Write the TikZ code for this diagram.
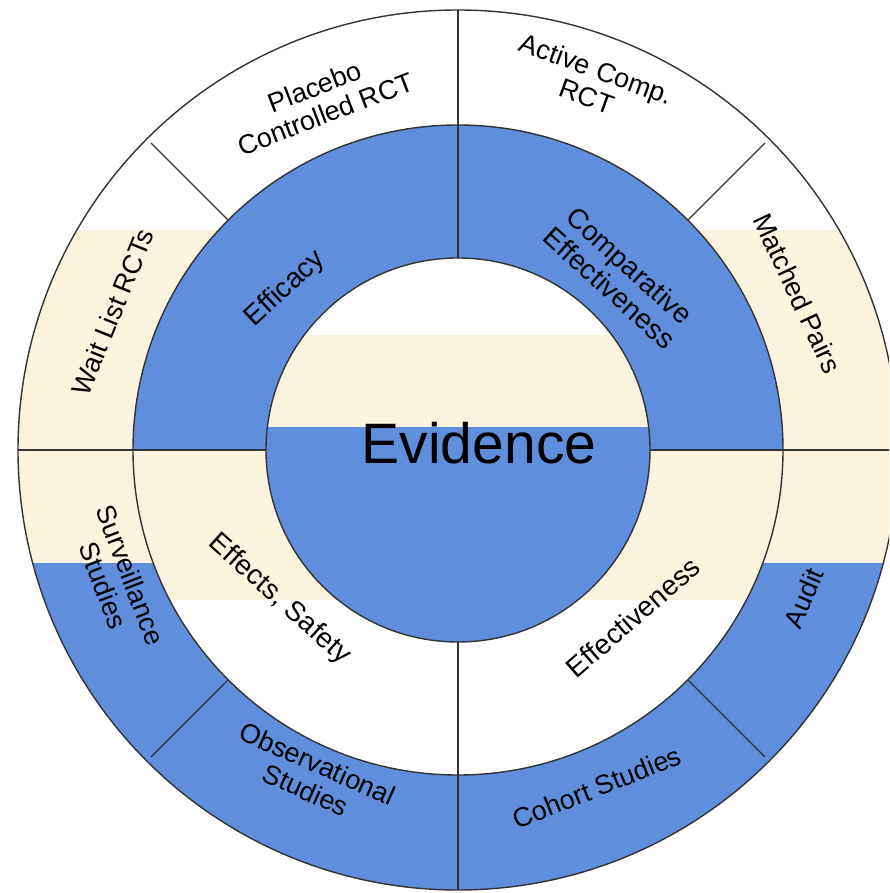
\documentclass[tikz,border=0pt]{standalone}
\usepackage{fontspec}
\setmainfont{Liberation Sans}
\usepackage{xcolor}
\usepackage{tikz}
\usetikzlibrary{calc}

\definecolor{ringblue}{RGB}{95,143,220}
\definecolor{ringcream}{RGB}{251,243,222}

\begin{document}
\begin{tikzpicture}[x=1pt, y=1pt,
		outlbl/.style = {align=center, inner sep=0pt, font=\fontsize{27}{29}\selectfont},
		midlbl/.style = {align=center, inner sep=0pt, font=\fontsize{28}{30}\selectfont},
		divider/.style = {line width=1.4pt, black!80}]
		%variables
		\def\Ro{440};
		\def\Rm{325};
		\def\Ri{192};

		%frame
		\useasboundingbox (-458,-443) rectangle (431,450);
		\clip (-458,-443) rectangle (431,450);

		%outer ring
		\begin{scope}
			\clip (0,0) circle [radius = \Ro];
			\fill [white] (-\Ro,220) rectangle (\Ro,\Ro);
			\fill [ringcream] (-\Ro,-113) rectangle (\Ro,220);
			\fill [ringblue] (-\Ro,-\Ro) rectangle (\Ro,-113);
		\end{scope}

		%middle ring
		\begin{scope}
			\clip (0,0) circle [radius = \Rm];
			\fill [ringblue] (-\Rm,0) rectangle (\Rm,\Rm);
			\fill [ringcream] (-\Rm,-150) rectangle (\Rm,0);
			\fill [white] (-\Rm,-\Rm) rectangle (\Rm,-150);
		\end{scope}

		%inner circle
		\begin{scope}
			\clip (0,0) circle [radius = \Ri];
			\fill [white] (-\Ri,115) rectangle (\Ri,\Ri);
			\fill [ringcream] (-\Ri,23) rectangle (\Ri,115);
			\fill [ringblue] (-\Ri,-\Ri) rectangle (\Ri,23);
		\end{scope}

		%circles
		\draw [divider] (0,0) circle [radius = \Ro];
		\draw [divider] (0,0) circle [radius = \Rm];
		\draw [divider] (0,0) circle [radius = \Ri];

		%dividers
		\draw [divider] (0,\Ri) -- (0,\Ro);
		\draw [divider] (0,-\Ri) -- (0,-\Ro);
		\draw [divider] (-\Ri,0) -- (-\Ro,0);
		\draw [divider] (\Ri,0) -- (\Ro,0);
		\foreach \a in {45,135,225,315}
			\draw [divider] (\a:\Rm) -- (\a:434);

		%outer labels
		\node [outlbl, rotate = 21] (placebo) at (111.5:376) {Placebo\\Controlled RCT};
		\node [outlbl, rotate = -20] (activecomp) at (70:391) {Active Comp.\\RCT};
		\node [outlbl, rotate = -65] (matched) at (24.8:374) {Matched Pairs};
		\node [outlbl, rotate = 67] (audit) at (-23.2:376) {Audit};
		\node [outlbl, rotate = 22] (cohort) at (-67.6:365) {Cohort Studies};
		\node [outlbl, rotate = -24] (observ) at (245.9:358) {Observational\\Studies};
		\node [outlbl, rotate = -69] (surveil) at (200.9:365) {Surveillance\\Studies};
		\node [outlbl, rotate = 68] (waitlist) at (158.2:372) {Wait List RCTs};

		%middle labels
		\node [midlbl, rotate = 43] (efficacy) at (137:236) {Efficacy};
		\node [midlbl, rotate = -42] (compeff) at (47:237) {Comparative\\Effectiveness};
		\node [midlbl, rotate = -42] (effects) at (220:233) {Effects, Safety};
		\node [midlbl, rotate = 41] (effectiveness) at (-43.7:242) {Effectiveness};

		%centre
		\node [inner sep=0pt, font=\fontsize{57}{60}\selectfont] (evidence) at (21,6.5) {Evidence};
	\end{tikzpicture}
\end{document}
